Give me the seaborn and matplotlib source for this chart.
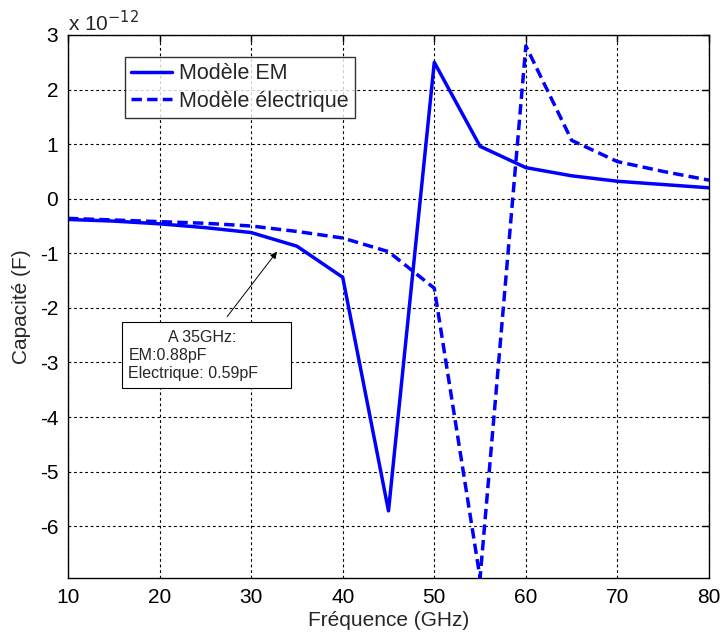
import numpy as np
import pandas as pd
import matplotlib
matplotlib.use("Agg")
import matplotlib.pyplot as plt
import seaborn as sns
from matplotlib.patches import Rectangle

# Data (capacitance in units of 1e-12 F)
freq_ghz = [10, 15, 20, 25, 30, 35, 40, 45, 50, 55, 60, 65, 70, 75, 80]
cap_em = [-0.38, -0.41, -0.46, -0.53, -0.62, -0.87, -1.44, -5.72, 2.5, 0.96,
          0.57, 0.42, 0.32, 0.26, 0.2]
cap_elec = [-0.36, -0.39, -0.42, -0.45, -0.5, -0.6, -0.72, -0.97, -1.64, -6.95,
            2.8, 1.07, 0.68, 0.5, 0.34]
series_names = ["Modèle EM", "Modèle électrique"]
x_ticks = [10, 20, 30, 40, 50, 60, 70, 80]
y_ticks = [-6, -5, -4, -3, -2, -1, 0, 1, 2, 3]
annot_lines = ["A 35GHz:", "EM:0.88pF", "Electrique: 0.59pF"]

sns.set_theme(style="white")
plt.rcParams['font.family'] = ['Liberation Sans', 'DejaVu Sans']

df = pd.DataFrame({
    "f": freq_ghz * 2,
    "c": cap_em + cap_elec,
    "model": [series_names[0]] * len(freq_ghz) + [series_names[1]] * len(freq_ghz),
})

fig = plt.figure(figsize=(7.22, 6.35), dpi=100)
ax = fig.add_axes([68 / 722, 1 - 578 / 635, (709 - 68) / 722, (578 - 35) / 635])

sns.lineplot(data=df, x="f", y="c", style="model", style_order=series_names,
             dashes={series_names[0]: "", series_names[1]: (3.0, 1.5)},
             color="#0000ff", linewidth=2.5, ax=ax, legend=True, sort=False)

ax.set_xlim(10, 80)
ax.set_ylim(-6.95, 3)
ax.set_xticks(x_ticks)
ax.set_yticks(y_ticks)
ax.set_xticklabels([str(t) for t in x_ticks])
ax.set_yticklabels([str(t) for t in y_ticks])
ax.tick_params(direction="in", length=5, width=1, top=True, right=True,
               labelsize=15, colors="black", pad=7)
ax.grid(True, color="black", linestyle=(0, (2.5, 2.5)), linewidth=0.8)
for s in ax.spines.values():
    s.set_color("black")
    s.set_linewidth(1)
    s.set_visible(True)

ax.set_xlabel("Fréquence (GHz)", fontsize=15, labelpad=3)
ax.set_ylabel("Capacité (F)", fontsize=15, labelpad=6)

ax.text(0.0, 1.0, r"x 10$^{-12}$", transform=ax.transAxes, fontsize=15,
        ha="left", va="bottom")

leg = ax.legend(loc="upper left", bbox_to_anchor=(57 / 641, 1 - 22 / 543),
                fontsize=15.5, frameon=True, fancybox=False, handlelength=1.9,
                handletextpad=0.3, borderpad=0.3, labelspacing=0.3,
                borderaxespad=0)
leg.get_frame().set_edgecolor("black")
leg.get_frame().set_linewidth(1)
for line in leg.get_lines():
    line.set_linewidth(2.5)

# annotation box
ax.add_patch(Rectangle((15.9, -3.46), 34.3 - 15.9, 3.46 - 2.25, facecolor="white",
                       edgecolor="black", linewidth=0.8, zorder=5))
ax.text(24.6, -2.55, annot_lines[0], fontsize=11.5, ha="center", va="center", zorder=6)
ax.text(16.6, -2.88, annot_lines[1], fontsize=11.5, ha="left", va="center", zorder=6)
ax.text(16.6, -3.2, annot_lines[2], fontsize=11.5, ha="left", va="center", zorder=6)
ax.annotate("", xy=(33.0, -0.93), xytext=(27.2, -2.2),
            arrowprops=dict(arrowstyle="-|>", color="black", lw=0.7,
                            mutation_scale=10), zorder=6)

fig.savefig("out.png", dpi=100, facecolor="white")
